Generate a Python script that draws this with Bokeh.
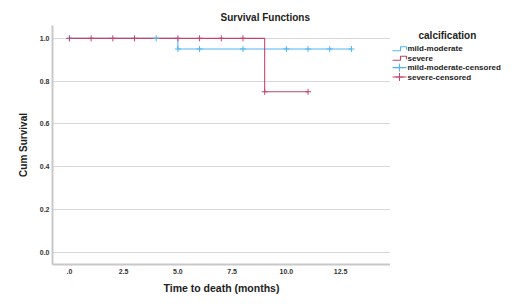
from bokeh.plotting import figure
from bokeh.models import Range1d, FixedTicker, Title
from bokeh.layouts import row
from bokeh.core.properties import value
from bokeh.embed import file_html
from bokeh.resources import INLINE

# Data
mild_t = [0, 5, 13]
mild_s = [1.0, 0.95, 0.95]
severe_t = [0, 9, 11]
severe_s = [1.0, 0.75, 0.75]
mild_cens_t = [0, 4, 5, 6, 8, 10, 11, 12, 13]
mild_cens_s = [1.0, 1.0, 0.95, 0.95, 0.95, 0.95, 0.95, 0.95, 0.95]
severe_cens_t = [0, 1, 2, 3, 5, 6, 7, 8, 9, 11]
severe_cens_s = [1.0, 1.0, 1.0, 1.0, 1.0, 1.0, 1.0, 1.0, 0.75, 0.75]
x_ticks = [0, 2.5, 5, 7.5, 10, 12.5]
x_tick_labels = [".0", "2.5", "5.0", "7.5", "10.0", "12.5"]
y_ticks = [0.0, 0.2, 0.4, 0.6, 0.8, 1.0]
y_tick_labels = ["0.0", "0.2", "0.4", "0.6", "0.8", "1.0"]
legend_title = "calcification"
legend_labels = ["mild-moderate", "severe", "mild-moderate-censored", "severe-censored"]

BLUE = "#4fb6f2"
RED = "#c2456d"
FONT = "Liberation Sans"
TXT = "#222222"

TOP, BOTTOM = 25, 40
H = 304

p = figure(width=390, height=H, output_backend="svg", toolbar_location=None,
           x_range=Range1d(-0.78, 14.8), y_range=Range1d(-0.058, 1.06),
           min_border_left=52, min_border_right=0, min_border_top=TOP,
           min_border_bottom=BOTTOM)
p.outline_line_color = None
p.background_fill_color = "white"
p.border_fill_color = "white"

t = Title(text="Survival Functions", align="left", offset=168, standoff=6,
          text_font=FONT, text_font_size="10px", text_font_style="bold",
          text_color=TXT)
p.add_layout(t, "above")

p.step(mild_t, mild_s, mode="after", line_color=BLUE, line_width=1.1)
p.step(severe_t, severe_s, mode="after", line_color=RED, line_width=1.1)
p.scatter(mild_cens_t, mild_cens_s, marker="cross", size=6,
          line_color=BLUE, line_width=1.0)
p.scatter(severe_cens_t, severe_cens_s, marker="cross", size=6,
          line_color=RED, line_width=1.0)

p.xgrid.grid_line_color = None
p.ygrid.grid_line_color = "#d8d8d8"
p.ygrid.grid_line_width = 1

for ax in (p.xaxis[0], p.yaxis[0]):
    ax.axis_line_color = "#c8c8c8"
    ax.axis_line_width = 2
    ax.major_tick_line_color = None
    ax.minor_tick_line_color = None
    ax.major_tick_out = 0
    ax.major_tick_in = 0
    ax.major_label_text_font = FONT
    ax.major_label_text_font_size = "7px"
    ax.major_label_text_font_style = "bold"
    ax.major_label_text_color = "#333333"
    ax.axis_label_text_font = FONT
    ax.axis_label_text_font_style = "bold"
    ax.axis_label_text_color = TXT

p.xaxis.ticker = FixedTicker(ticks=x_ticks)
p.xaxis.major_label_overrides = {k: v for k, v in zip(x_ticks, x_tick_labels)}
p.yaxis.ticker = FixedTicker(ticks=y_ticks)
p.yaxis.major_label_overrides = {k: v for k, v in zip(y_ticks, y_tick_labels)}
p.xaxis.major_label_standoff = 4
p.yaxis.major_label_standoff = 3
p.xaxis.axis_label = "Time to death (months)"
p.yaxis.axis_label = "Cum Survival"
p.xaxis.axis_label_text_font_size = "10.5px"
p.yaxis.axis_label_text_font_size = "10px"
p.xaxis.axis_label_standoff = 5
p.yaxis.axis_label_standoff = 8

# Legend panel: its frame is aligned with the main frame (TOP..H-BOTTOM),
# so map data units to page pixels (x right, y down)
L = figure(width=128, height=H, output_backend="svg", toolbar_location=None,
           x_range=Range1d(0, 128), y_range=Range1d(H - BOTTOM, TOP),
           x_axis_location=None, y_axis_location=None,
           min_border=0)
L.grid.visible = False
L.outline_line_color = None
L.border_fill_color = "white"
L.background_fill_color = "white"

colors = [BLUE, RED, BLUE, RED]
row_y0, row_dy = 48.3, 9.4
gx0, gx1, tx = 2, 16, 17
L.text([28], [35], text=[legend_title], text_font=value(FONT),
       text_font_size="10px", text_font_style="bold", text_color=TXT,
       text_baseline="middle", text_align="left")
for i, (lab, c) in enumerate(zip(legend_labels, colors)):
    yc = row_y0 + i * row_dy
    if i < 2:
        L.line([gx0, gx0 + 8, gx0 + 8, gx1, gx1], [yc + 2, yc + 2, yc - 2, yc - 2, yc + 1],
               line_color=c, line_width=1.1)
    else:
        L.line([gx0, gx1], [yc, yc], line_color=c, line_width=1.1)
        L.scatter([(gx0 + gx1) / 2], [yc], marker="cross", size=8,
                  line_color=c, line_width=1.0)
    L.text([tx], [yc], text=[lab], text_font=value(FONT), text_font_size="8px",
           text_font_style="bold", text_color=TXT, text_baseline="middle",
           text_align="left")

open("out.html", "w").write(file_html(row(p, L), INLINE))
